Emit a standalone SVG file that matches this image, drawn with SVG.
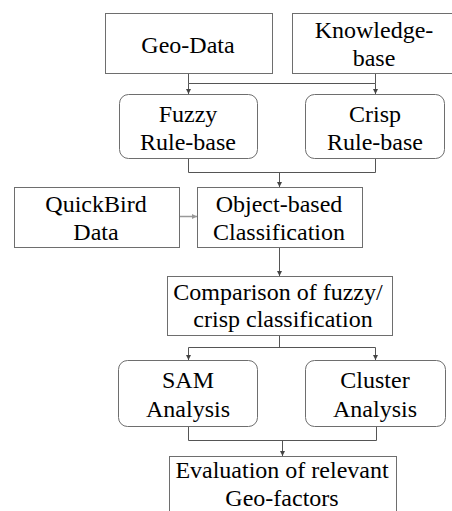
<svg xmlns="http://www.w3.org/2000/svg" width="452" height="511" viewBox="0 0 452 511">
<style>
.box{fill:#fff;stroke:#6e6e6e;stroke-width:1}
.c{fill:none;stroke:#555;stroke-width:1}
.g{fill:none;stroke:#999;stroke-width:1.5}
</style>
<defs>
<marker id="ah" markerWidth="6" markerHeight="6" refX="5" refY="3" orient="auto" markerUnits="userSpaceOnUse">
<path d="M0,0.5 L5,3 L0,5.5 z" fill="#444"/>
</marker>
<marker id="ahg" markerWidth="6" markerHeight="6" refX="5" refY="3" orient="auto" markerUnits="userSpaceOnUse">
<path d="M0,0.5 L5,3 L0,5.5 z" fill="#999"/>
</marker>
</defs>
<rect width="452" height="511" fill="#fff"/>
<g id="connectors">
<path class="c" d="M188.5,73 V83.5 H375.5 V73"/>
<path class="c" d="M188.5,83.5 V94" marker-end="url(#ah)"/>
<path class="c" d="M375.5,83.5 V94" marker-end="url(#ah)"/>
<path class="c" d="M188.5,158 V172.5 H375.5 V158"/>
<path class="c" d="M279.5,172.5 V187" marker-end="url(#ah)"/>
<path class="g" d="M179,216.5 H197" marker-end="url(#ahg)"/>
<path class="c" d="M279.5,247 V276" marker-end="url(#ah)"/>
<path class="c" d="M279.5,335 V347.5"/>
<path class="c" d="M188.5,347.5 H375.5"/>
<path class="c" d="M188.5,347.5 V360" marker-end="url(#ah)"/>
<path class="c" d="M375.5,347.5 V360" marker-end="url(#ah)"/>
<path class="c" d="M188.5,426 V440.5 H376.5 V426"/>
<path class="c" d="M282.5,440.5 V456" marker-end="url(#ah)"/>
</g>
<g id="geodata"><rect class="box" x="105.5" y="13.5" width="167" height="60"/><text x="188" y="53" font-family="Liberation Serif" font-size="24" text-anchor="middle">Geo-Data</text></g>
<g id="knowledge"><rect class="box" x="292.5" y="13.5" width="165" height="60"/><text x="374" y="38" font-family="Liberation Serif" font-size="24" text-anchor="middle">Knowledge-</text><text x="374" y="66" font-family="Liberation Serif" font-size="24" text-anchor="middle">base</text></g>
<g id="fuzzy"><rect class="box" x="119.5" y="94.5" width="138" height="64" rx="9"/><text x="188" y="122" font-family="Liberation Serif" font-size="24" text-anchor="middle">Fuzzy</text><text x="188" y="150" font-family="Liberation Serif" font-size="24" text-anchor="middle">Rule-base</text></g>
<g id="crisp"><rect class="box" x="305.5" y="94.5" width="139" height="64" rx="9"/><text x="375" y="122" font-family="Liberation Serif" font-size="24" text-anchor="middle">Crisp</text><text x="375" y="150" font-family="Liberation Serif" font-size="24" text-anchor="middle">Rule-base</text></g>
<g id="quickbird"><rect class="box" x="14.5" y="187.5" width="165" height="60"/><text x="96" y="212" font-family="Liberation Serif" font-size="24" text-anchor="middle">QuickBird</text><text x="96" y="240" font-family="Liberation Serif" font-size="24" text-anchor="middle">Data</text></g>
<g id="objectbased"><rect class="box" x="197.5" y="187.5" width="165" height="60"/><text x="279" y="212" font-family="Liberation Serif" font-size="24" text-anchor="middle">Object-based</text><text x="279" y="240" font-family="Liberation Serif" font-size="24" text-anchor="middle">Classification</text></g>
<g id="comparison"><rect class="box" x="167.5" y="276.5" width="225" height="59"/><text x="278" y="300" font-family="Liberation Serif" font-size="24" text-anchor="middle">Comparison of fuzzy/</text><text x="283" y="327" font-family="Liberation Serif" font-size="24" text-anchor="middle">crisp classification</text></g>
<g id="sam"><rect class="box" x="118.5" y="360.5" width="139" height="66" rx="9"/><text x="188" y="388" font-family="Liberation Serif" font-size="24" text-anchor="middle">SAM</text><text x="188" y="417" font-family="Liberation Serif" font-size="24" text-anchor="middle">Analysis</text></g>
<g id="cluster"><rect class="box" x="305.5" y="360.5" width="140" height="66" rx="9"/><text x="375" y="388" font-family="Liberation Serif" font-size="24" text-anchor="middle">Cluster</text><text x="375" y="417" font-family="Liberation Serif" font-size="24" text-anchor="middle">Analysis</text></g>
<g id="evaluation"><rect class="box" x="169.5" y="456.5" width="227" height="70"/><text x="282" y="478" font-family="Liberation Serif" font-size="24" text-anchor="middle">Evaluation of relevant</text><text x="282" y="506" font-family="Liberation Serif" font-size="24" text-anchor="middle">Geo-factors</text></g>
</svg>
